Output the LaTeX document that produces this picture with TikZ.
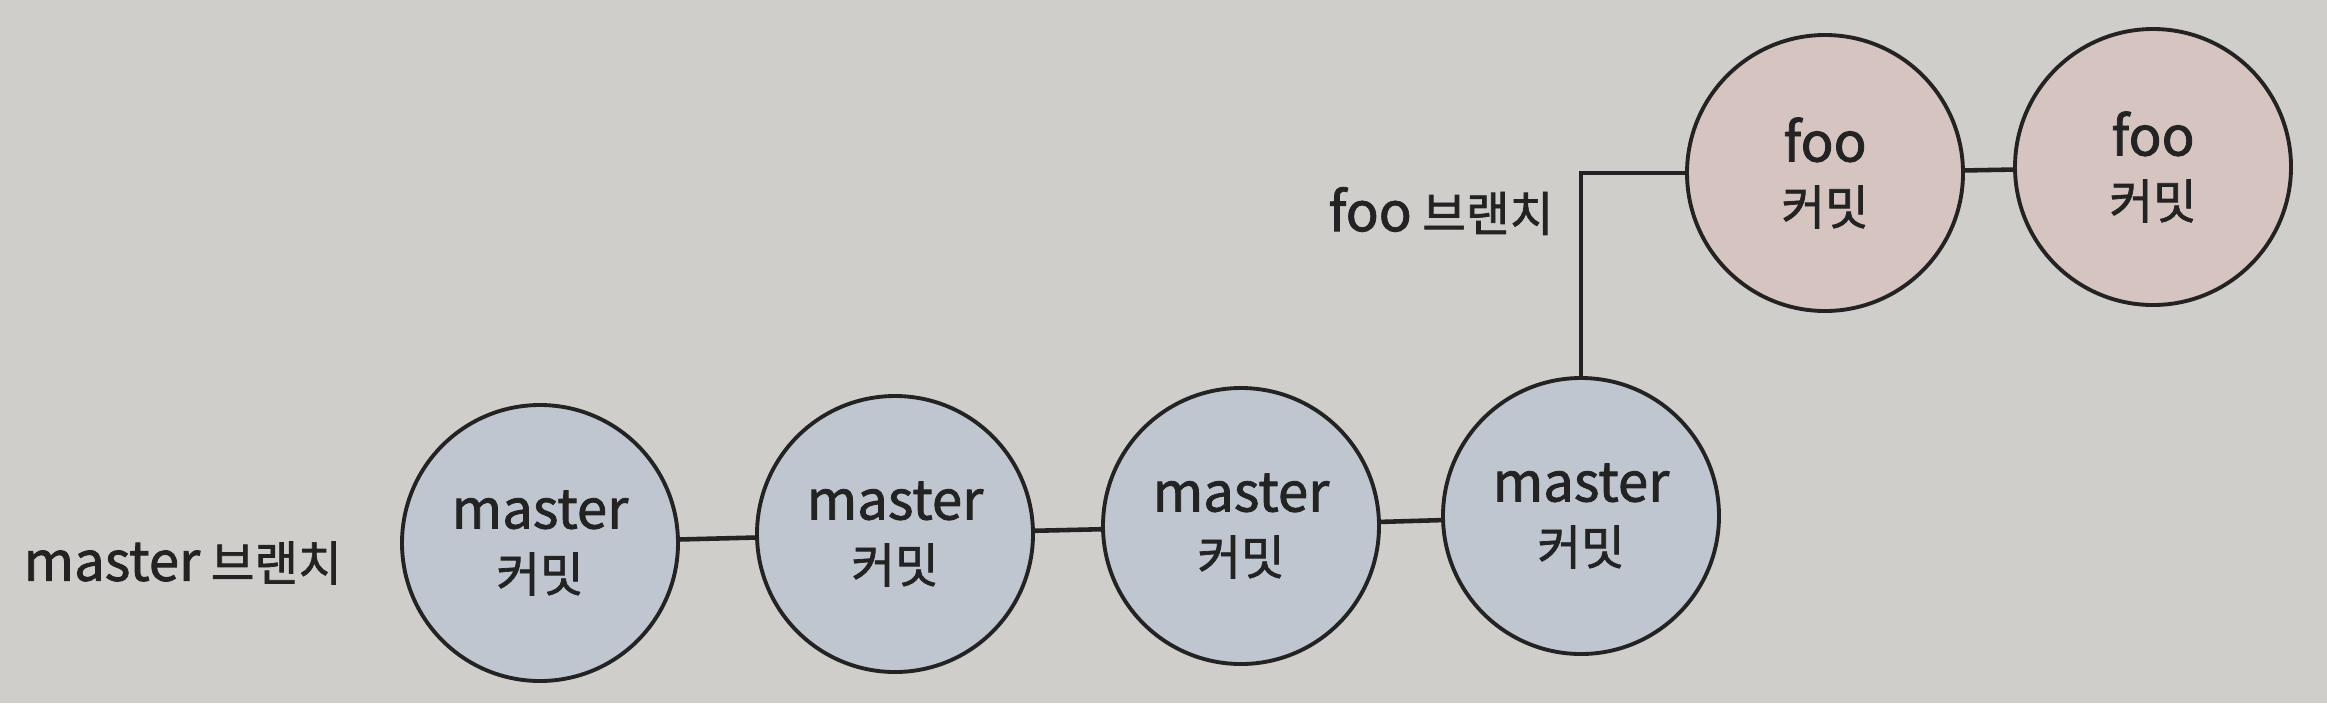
\documentclass[tikz,border=0pt]{standalone}
\usepackage{fontspec}
\setmainfont{Noto Sans CJK KR}[FakeBold=1.5]
\newcommand{\lat}[1]{{\fontsize{15.5}{18}\selectfont #1}}
\definecolor{paper}{RGB}{208,206,202}
\definecolor{mfill}{RGB}{192,198,207}
\definecolor{ffill}{RGB}{214,196,192}
\definecolor{ink}{RGB}{35,35,35}
\tikzset{
  commit/.style={circle, draw=ink, line width=1.1pt, minimum size=2.76cm, inner sep=0pt,
    align=center, font=\fontsize{13.5}{18}\selectfont, text=ink},
  mcommit/.style={commit, fill=mfill},
  fcommit/.style={commit, fill=ffill},
  link/.style={draw=ink, line width=1.3pt},
  lbl/.style={font=\fontsize{13.5}{16}\selectfont, text=ink, inner sep=0pt}
}
\begin{document}
\begin{tikzpicture}
\fill[paper] (0,0) rectangle (23.27,7.03);
\useasboundingbox (0,0) rectangle (23.27,7.03);
% master commits
\node[mcommit] (m1) at (5.40,1.60) {\lat{master}\\커밋};
\node[mcommit] (m2) at (8.95,1.69) {\lat{master}\\커밋};
\node[mcommit] (m3) at (12.41,1.77) {\lat{master}\\커밋};
\node[mcommit] (m4) at (15.81,1.87) {\lat{master}\\커밋};
% foo commits
\node[fcommit] (f1) at (18.25,5.30) {\lat{foo}\\커밋};
\node[fcommit] (f2) at (21.53,5.36) {\lat{foo}\\커밋};
% labels
\node[lbl, anchor=west] (ml) at (0.23,1.40) {\lat{master} 브랜치};
\node[lbl, anchor=east] (fl) at (15.54,4.92) {\lat{foo} 브랜치};
% connectors
\draw[link] (m1) -- (m2);
\draw[link] (m2) -- (m3);
\draw[link] (m3) -- (m4);
\draw[link] (f1) -- (f2);
\draw[link] (m4.north) |- (f1.west);
\end{tikzpicture}
\end{document}
